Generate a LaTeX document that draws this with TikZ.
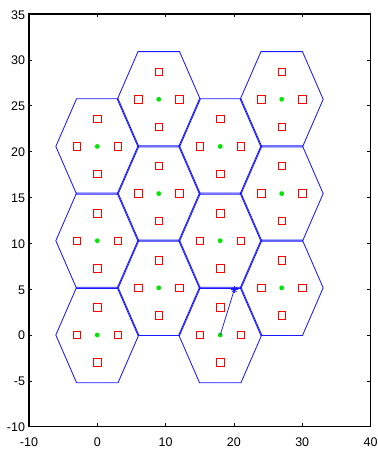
\documentclass[tikz,border=0pt]{standalone}
\usepackage{fontspec}
\setmainfont{Liberation Sans}
\definecolor{hexblue}{RGB}{25,25,255}
\definecolor{sqred}{RGB}{255,0,0}
\definecolor{dotgreen}{RGB}{0,230,0}
\tikzset{
  hexline/.style={draw=hexblue, line width=0.85pt, line join=miter},
  sqline/.style={color=sqred, line width=0.8pt},
  bsmark/.style={fill=dotgreen, circle, minimum size=4.8pt, inner sep=0pt, outer sep=0pt},
  axbox/.style={draw=black, line width=1.2pt},
  tickmark/.style={draw=black, line width=0.7pt},
  ticklab/.style={font=\fontsize{12.5}{14}\selectfont, inner sep=0pt, outer sep=0pt},
  starmark/.style={draw=hexblue, line width=0.7pt},
  linkline/.style={draw=hexblue, line width=0.75pt},
}
\begin{document}
\begin{tikzpicture}[x=1pt,y=1pt]
\useasboundingbox[fill=white] (0,0) rectangle (377,449);
\begin{scope}[shift={(97.3pt,114pt)}, x=6.83pt, y=9.171pt]
  \def\hh{5.14}
  \def\kk{1.012}
  % hexagons
  \foreach \cx/\cy in {0/0,0/10.28,0/20.56,9/5.14,9/15.42,9/25.70,18/0,18/10.28,18/20.56,27/5.14,27/15.42,27/25.70}{
    \draw[hexline] ({\cx+6*\kk},{\cy}) -- ({\cx+3*\kk},{\cy+\hh*\kk}) -- ({\cx-3*\kk},{\cy+\hh*\kk})
      -- ({\cx-6*\kk},{\cy}) -- ({\cx-3*\kk},{\cy-\hh*\kk}) -- ({\cx+3*\kk},{\cy-\hh*\kk}) -- cycle;
  }
  % users (red squares), all in one path
  \draw[sqline]
  \foreach \cx/\cy in {0/0,0/10.28,0/20.56,9/5.14,9/15.42,9/25.70,18/0,18/10.28,18/20.56,27/5.14,27/15.42,27/25.70}{
    ({\cx},{\cy+3}) +(-3.7pt,-3.7pt) rectangle +(3.7pt,3.7pt)
    ({\cx},{\cy-3}) +(-3.7pt,-3.7pt) rectangle +(3.7pt,3.7pt)
    ({\cx-3},{\cy}) +(-3.7pt,-3.7pt) rectangle +(3.7pt,3.7pt)
    ({\cx+3},{\cy}) +(-3.7pt,-3.7pt) rectangle +(3.7pt,3.7pt)
  };
  % base stations (green dots)
  \foreach \cx/\cy [count=\i] in {0/0,0/10.28,0/20.56,9/5.14,9/15.42,9/25.70,18/0,18/10.28,18/20.56,27/5.14,27/15.42,27/25.70}{
    \node[bsmark] (c\i) at ({\cx},{\cy}) {};
  }
  % star and link
  \node[inner sep=0pt, minimum size=0pt] (st) at (20.06,4.95) {};
  \draw[linkline] (c7.center) -- (st.center);
  \draw[starmark] (st.center) +(-3.2pt,0pt) -- +(3.2pt,0pt);
  \draw[starmark] (st.center) +(0pt,-3.2pt) -- +(0pt,3.2pt);
  \draw[starmark] (st.center) +(-2.3pt,-2.3pt) -- +(2.3pt,2.3pt);
  \draw[starmark] (st.center) +(-2.3pt,2.3pt) -- +(2.3pt,-2.3pt);
  % axes box
  \draw[axbox] (-10,-10) rectangle (40,35);
  % ticks
  \foreach \x in {0,10,20,30}{
    \draw[tickmark] (\x,-10) -- ++(0pt,3.4pt);
    \draw[tickmark] (\x,35) -- ++(0pt,-3.4pt);
  }
  \foreach \y in {-5,0,...,30}{
    \draw[tickmark] (-10,\y) -- ++(3.4pt,0pt);
    \draw[tickmark] (40,\y) -- ++(-3.4pt,0pt);
  }
  % tick labels
  \foreach \x in {-10,0,10,20,30,40}{
    \node[ticklab, anchor=base] at (\x,-12.18) {\x};
  }
  \foreach \y in {-10,-5,0,5,10,15,20,25,30,35}{
    \node[ticklab, anchor=base east, yshift=-5pt] at (-10.59,\y) {\y};
  }
\end{scope}
\end{tikzpicture}
\end{document}
